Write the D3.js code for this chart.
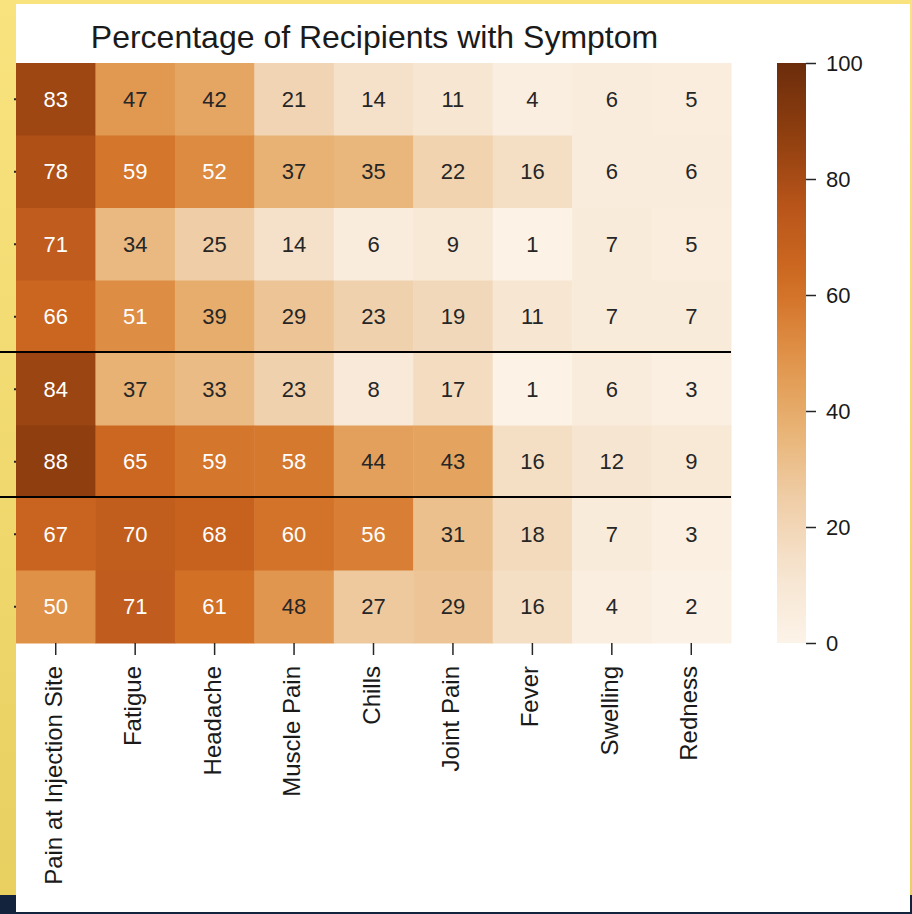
<!DOCTYPE html>
<html>
<head>
<meta charset="utf-8">
<script src="https://cdn.jsdelivr.net/npm/d3@7"></script>
<style>
  body { margin: 0; background: #f3dc72; }
  svg { display: block; font-family: "Liberation Sans", Arial, sans-serif; }
</style>
</head>
<body>
<svg width="912" height="914"></svg>
<script>
// symptoms along the bottom
const symptoms = ['Pain at Injection Site', 'Fatigue', 'Headache', 'Muscle Pain', 'Chills',
                  'Joint Pain', 'Fever', 'Swelling', 'Redness'];
// row labels are cut off in the picture, so rows are just numbered
const rows = [0, 1, 2, 3, 4, 5, 6, 7];
const values = [
  [83, 47, 42, 21, 14, 11, 4, 6, 5],
  [78, 59, 52, 37, 35, 22, 16, 6, 6],
  [71, 34, 25, 14, 6, 9, 1, 7, 5],
  [66, 51, 39, 29, 23, 19, 11, 7, 7],
  [84, 37, 33, 23, 8, 17, 1, 6, 3],
  [88, 65, 59, 58, 44, 43, 16, 12, 9],
  [67, 70, 68, 60, 56, 31, 18, 7, 3],
  [50, 71, 61, 48, 27, 29, 16, 4, 2]
];
const colorTicks = [0, 20, 40, 60, 80, 100];
// black separator lines sit above these rows
const dividers = [4, 6];

const svg = d3.select('svg');

// slide background
const defs = svg.append('defs');
const bg = defs.append('linearGradient').attr('id', 'bg')
  .attr('x1', 0).attr('y1', 0).attr('x2', 0).attr('y2', 1);
bg.append('stop').attr('offset', 0).attr('stop-color', '#f9e37e');
bg.append('stop').attr('offset', 1).attr('stop-color', '#e8cf60');
svg.append('rect').attr('width', 912).attr('height', 914).attr('fill', 'url(#bg)');
svg.append('rect').attr('y', 895).attr('width', 912).attr('height', 19).attr('fill', '#14233d');
svg.append('rect').attr('x', 16).attr('y', 4).attr('width', 894).attr('height', 908).attr('fill', '#fff');

// Oranges, as it looks in the screenshot
const stops = ['#fcf3e8', '#f6e4cf', '#efcda6', '#e8b172', '#df9147',
               '#d06c22', '#b9551a', '#8f3f0f', '#6c2c0b'];
const color = d3.scaleLinear()
  .domain(stops.map((c, i) => i * 100 / (stops.length - 1)))
  .range(stops)
  .interpolate(d3.interpolateRgb)
  .clamp(true);

const x = d3.scaleBand().domain(symptoms).range([16, 731]);
const y = d3.scaleBand().domain(rows).range([63, 643]);

const cells = [];
rows.forEach((r) => {
  symptoms.forEach((s, j) => cells.push({row: r, col: s, v: values[r][j]}));
});

svg.append('g').selectAll('rect')
  .data(cells).enter().append('rect')
  .attr('x', (d) => x(d.col))
  .attr('y', (d) => y(d.row))
  .attr('width', x.bandwidth() + 0.5)
  .attr('height', y.bandwidth() + 0.5)
  .attr('fill', (d) => color(d.v));

svg.append('g').selectAll('text')
  .data(cells).enter().append('text')
  .attr('x', (d) => x(d.col) + x.bandwidth() / 2)
  .attr('y', (d) => y(d.row) + y.bandwidth() / 2)
  .attr('text-anchor', 'middle')
  .attr('dominant-baseline', 'central')
  .attr('font-size', 22)
  .attr('fill', (d) => d.v >= 50 ? '#ffffff' : '#262626')
  .text((d) => d.v);

// x axis
const xAxis = svg.append('g')
  .attr('transform', `translate(0,${y.range()[1]})`)
  .call(d3.axisBottom(x).tickSize(12).tickPadding(10));
xAxis.select('.domain').remove();
xAxis.selectAll('line').attr('stroke', '#262626').attr('stroke-width', 1.5);
xAxis.selectAll('text')
  .attr('font-size', 24)
  .attr('fill', '#1a1a1a')
  .attr('transform', 'rotate(-90)')
  .attr('text-anchor', 'end')
  .attr('x', -23)
  .attr('y', 0)
  .attr('dy', '0.25em');

// row ticks, labels are cropped away
const yAxis = svg.append('g')
  .attr('transform', `translate(${x.range()[0]},0)`)
  .call(d3.axisLeft(y).tickSize(2).tickFormat(''));
yAxis.select('.domain').remove();
yAxis.selectAll('line').attr('stroke', '#262626').attr('stroke-width', 2);

// separators
svg.append('g').selectAll('line')
  .data(dividers).enter().append('line')
  .attr('x1', 0)
  .attr('x2', x.range()[1])
  .attr('y1', (d) => y(d) - 1)
  .attr('y2', (d) => y(d) - 1)
  .attr('stroke', '#000')
  .attr('stroke-width', 2);

// title
svg.append('text')
  .attr('x', (x.range()[0] + x.range()[1]) / 2 + 1)
  .attr('y', 48)
  .attr('text-anchor', 'middle')
  .attr('font-size', 32)
  .attr('fill', '#1a1a1a')
  .text('Percentage of Recipients with Symptom');

// colorbar
const cbar = d3.scaleLinear().domain([0, 100]).range([y.range()[1], y.range()[0]]);
const grad = defs.append('linearGradient').attr('id', 'cbar')
  .attr('x1', 0).attr('y1', 1).attr('x2', 0).attr('y2', 0);
d3.range(0, 101, 5).forEach((v) => {
  grad.append('stop').attr('offset', v / 100).attr('stop-color', color(v));
});
svg.append('rect')
  .attr('x', 777)
  .attr('y', cbar(100))
  .attr('width', 29)
  .attr('height', cbar(0) - cbar(100))
  .attr('fill', 'url(#cbar)');
const cAxis = svg.append('g')
  .attr('transform', 'translate(806,0)')
  .call(d3.axisRight(cbar).tickValues(colorTicks).tickSize(10).tickPadding(10));
cAxis.select('.domain').remove();
cAxis.selectAll('line').attr('stroke', '#262626').attr('stroke-width', 1.5);
cAxis.selectAll('text').attr('font-size', 22).attr('fill', '#1a1a1a');
</script>
</body>
</html>
